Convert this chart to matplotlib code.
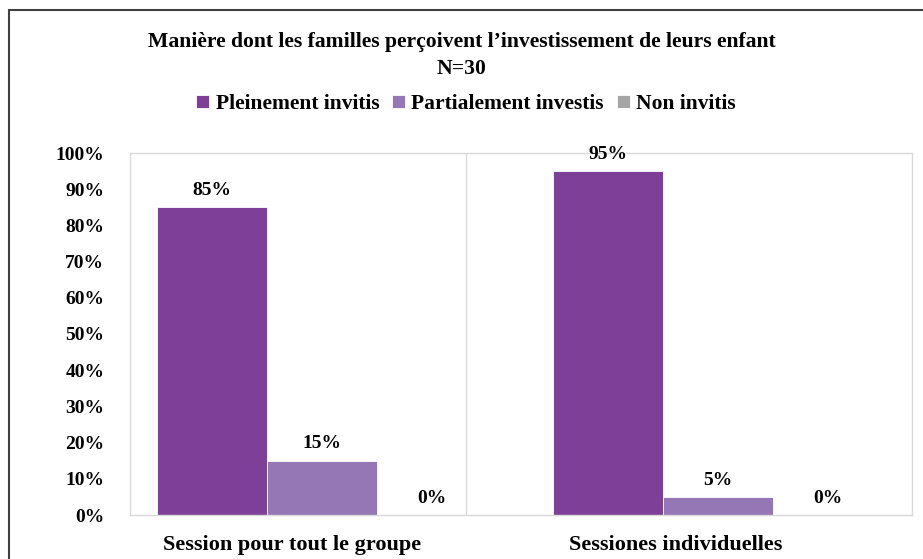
import matplotlib.pyplot as plt
import numpy as np
from matplotlib.patches import Rectangle

plt.rcParams['font.family'] = ['Liberation Serif', 'DejaVu Serif']
plt.rcParams['font.weight'] = 'bold'

categories = ['Session pour tout le groupe', 'Sessiones individuelles']
series = ['Pleinement invitis', 'Partialement investis', 'Non invitis']
pleinement = [0.85, 0.95]
partialement = [0.15, 0.05]
non_invitis = [0.0, 0.0]
colors = ['#7E3F98', '#9677B5', '#A5A5A5']
yticks = np.arange(0, 1.01, 0.1)

fig = plt.figure(figsize=(9.23, 5.59), dpi=100)
ax = fig.add_axes([130/923, 1-515/559, (912-130)/923, (515-153)/559])

# outer chart frame (cut off at right/bottom)
fig.patches.append(Rectangle((9/923, -0.1), 1.2, 1 - 10/559 + 0.1, transform=fig.transFigure,
                             fill=False, edgecolor='#404040', linewidth=1.5))

x = np.arange(len(categories))
w = 0.278
data = [pleinement, partialement, non_invitis]
for i, vals in enumerate(data):
    bars = ax.bar(x + (i - 1) * w, vals, w, color=colors[i], label=series[i],
                  edgecolor='white', linewidth=0.6, zorder=2)
    for b, v in zip(bars, vals):
        ax.annotate(f'{v:.0%}', (b.get_x() + b.get_width()/2, v), xytext=(0, 6),
                    textcoords='offset points', ha='center', va='bottom',
                    fontsize=14, fontweight='bold')

ax.set_xlim(-0.485, 1.49)
ax.set_ylim(0, 1)
ax.set_yticks(yticks)
ax.set_yticklabels([f'{t:.0%}' for t in yticks], fontsize=14, fontweight='bold')
# category labels sit a little left of the bar groups in the original
ax.set_xticks(x - np.array([0.076, 0.106]))
ax.set_xticklabels(categories, fontsize=16, fontweight='bold')
ax.tick_params(axis='y', length=0, pad=18.5)
ax.tick_params(axis='x', length=0, pad=14.5)
for s in ax.spines.values():
    s.set_color('#D9D9D9')
    s.set_linewidth(1)
ax.axvline(0.364, color='#D9D9D9', linewidth=1, zorder=1)

fig.text(0.5, 1-42/559, 'Manière dont les familles perçoivent l’investissement de leurs enfant',
         ha='center', va='center', fontsize=15.6, fontweight='bold')
fig.text(0.5, 1-69/559, 'N=30', ha='center', va='center', fontsize=15.6, fontweight='bold')
fig.legend(loc='center', bbox_to_anchor=(466/923, 1-104/559), ncol=3, frameon=False,
           fontsize=15.5, handlelength=0.6, handleheight=0.6, handletextpad=0.3,
           columnspacing=0.6)

fig.savefig('out.png', dpi=100)
